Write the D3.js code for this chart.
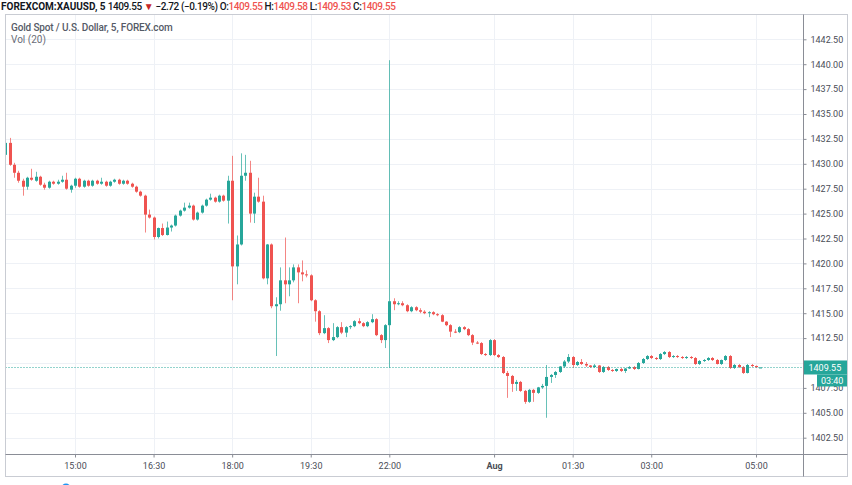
<!DOCTYPE html>
<html><head><meta charset="utf-8">
<script src="https://cdn.jsdelivr.net/npm/d3@7/dist/d3.min.js"></script>
<style>body{margin:0;background:#fff;} svg{display:block;}</style>
</head><body>
<svg id="chart" width="852" height="485"></svg>
<script>
// 5-minute candles, first bar 13:40 (bar index 0), last bar 05:05
const opens = [
1430.9,1432.1,1429.9,1429.1,1428.3,1427.7,1428.6,1428.3,1428.7,1427.9,
1427.6,1428.2,1428.0,1428.2,1428.4,1427.4,1427.8,1428.5,1427.7,1428.3,
1427.8,1428.3,1428.0,1428.2,1427.8,1428.2,1428.4,1428.0,1428.3,1428.0,
1427.7,1427.2,1426.8,1424.9,1424.6,1422.65,1423.55,1422.85,1423.6,1423.8,
1424.8,1425.3,1425.6,1425.8,1424.4,1425.1,1425.8,1426.4,1426.6,1426.2,
1426.8,1426.3,1428.3,1419.7,1421.9,1428.8,1429.1,1425.0,1426.7,1426.2,
1418.5,1421.9,1415.7,1415.9,1418.3,1417.9,1418.3,1419.6,1419.1,1418.9,
1418.8,1416.3,1415.2,1413.0,1413.5,1412.3,1412.6,1413.6,1413.05,1413.6,
1413.7,1414.2,1414.0,1413.7,1414.1,1414.4,1412.8,1412.3,1413.8,1416.2,
1415.9,1416.0,1415.8,1415.2,1415.6,1415.3,1415.15,1415.0,1415.1,1414.9,
1414.8,1414.15,1413.8,1413.15,1413.1,1413.6,1413.4,1412.8,1412.05,1412.0,
1410.9,1410.8,1412.3,1410.8,1410.6,1409.0,1408.7,1407.9,1408.1,1407.2,
1406.1,1407.3,1407.0,1407.55,1407.7,1408.6,1408.8,1409.1,1409.65,1410.15,
1410.6,1409.8,1410.1,1409.9,1409.75,1409.6,1409.75,1409.1,1409.6,1409.3,
1409.2,1409.4,1409.2,1409.45,1409.6,1409.4,1410.0,1410.4,1410.7,1410.5,
1410.4,1410.9,1411.1,1410.6,1410.7,1410.6,1410.5,1410.6,1410.5,1409.9,
1410.2,1410.3,1410.5,1410.3,1409.9,1410.3,1410.7,1409.5,1409.8,1409.6,
1409.0,1409.8,1409.7,1409.55];
const highs = [
1434.6,1432.6,1430.1,1429.3,1428.5,1428.7,1429.5,1429.2,1428.8,1428.1,
1428.3,1428.3,1428.4,1428.8,1429.1,1427.9,1428.6,1428.6,1428.4,1428.4,
1428.4,1428.4,1428.6,1428.3,1428.3,1428.5,1428.5,1428.4,1428.4,1428.1,
1427.8,1427.3,1426.9,1425.4,1424.7,1423.6,1424.0,1424.2,1423.9,1424.9,
1425.4,1426.1,1426.1,1425.9,1425.2,1425.9,1426.5,1427.0,1426.7,1426.9,
1426.9,1428.8,1430.8,1422.8,1431.05,1430.9,1430.3,1427.1,1428.6,1426.8,
1421.95,1422.0,1416.6,1419.6,1422.6,1419.6,1419.9,1419.9,1420.3,1419.3,
1418.9,1416.4,1415.3,1414.8,1413.6,1414.0,1413.7,1414.1,1413.7,1413.8,
1414.3,1414.5,1414.1,1414.2,1414.9,1414.5,1412.9,1413.9,1440.4,1416.5,
1416.2,1416.2,1415.9,1415.7,1415.7,1415.5,1415.3,1415.2,1415.2,1415.0,
1414.9,1414.2,1413.9,1413.4,1413.7,1413.7,1413.5,1412.9,1412.2,1412.1,
1411.0,1412.4,1412.4,1410.9,1410.7,1409.2,1408.8,1408.3,1408.2,1407.3,
1407.4,1407.4,1407.6,1407.9,1409.8,1408.9,1409.2,1409.7,1410.3,1410.9,
1410.7,1410.2,1410.4,1410.1,1409.8,1409.9,1409.8,1409.7,1409.7,1409.4,
1409.45,1409.5,1409.5,1409.7,1409.7,1410.1,1410.5,1410.8,1410.8,1410.6,
1411.0,1411.2,1411.2,1410.8,1410.8,1410.7,1410.7,1410.7,1410.6,1410.3,
1410.4,1410.6,1410.6,1410.4,1410.35,1410.8,1410.8,1409.9,1409.9,1409.7,
1409.9,1409.9,1409.75,1409.58];
const lows = [
1430.7,1429.8,1428.6,1428.1,1426.8,1427.4,1428.3,1428.2,1427.8,1427.4,
1427.5,1427.9,1427.9,1428.1,1427.4,1427.1,1427.6,1427.6,1427.6,1427.7,
1427.7,1427.9,1427.9,1427.7,1427.7,1428.1,1427.9,1427.9,1427.9,1427.6,
1427.1,1426.7,1423.1,1424.5,1422.4,1422.5,1422.75,1422.8,1423.2,1423.7,
1424.7,1425.2,1425.5,1424.3,1424.3,1425.0,1425.7,1426.3,1426.1,1426.1,
1426.2,1424.0,1416.3,1417.9,1421.8,1428.3,1424.1,1424.05,1426.1,1418.4,
1417.9,1415.5,1410.7,1415.25,1416.0,1416.7,1418.1,1416.0,1418.2,1418.6,
1416.2,1414.15,1412.8,1412.9,1412.0,1412.2,1412.5,1412.9,1412.6,1413.4,
1413.6,1413.9,1413.6,1413.6,1414.0,1412.7,1412.0,1411.5,1409.5,1415.3,
1415.8,1415.7,1415.1,1415.1,1415.2,1415.0,1414.9,1414.6,1414.8,1414.7,
1414.1,1413.7,1412.6,1413.0,1413.0,1413.3,1412.7,1411.8,1411.9,1410.8,
1410.7,1410.7,1410.7,1410.5,1408.9,1406.5,1407.1,1407.2,1407.1,1405.9,
1406.0,1406.1,1406.9,1407.4,1404.5,1408.0,1408.5,1409.0,1409.5,1410.0,
1409.5,1409.7,1409.8,1409.6,1409.5,1409.5,1409.0,1409.0,1409.2,1409.1,
1409.1,1409.1,1409.0,1409.4,1409.3,1409.35,1409.9,1410.3,1410.4,1410.3,
1410.3,1410.8,1410.5,1410.5,1410.5,1410.4,1410.4,1410.4,1409.8,1409.8,
1410.1,1410.2,1410.2,1409.85,1409.8,1410.2,1409.4,1409.4,1409.5,1408.9,
1408.95,1409.6,1409.5,1409.53];
const closes = [
1432.1,1429.9,1429.1,1428.3,1427.7,1428.6,1428.4,1428.7,1427.9,1427.6,
1428.2,1428.0,1428.2,1428.4,1427.5,1427.8,1428.5,1427.7,1428.3,1427.8,
1428.3,1428.0,1428.2,1427.8,1428.2,1428.4,1428.0,1428.3,1428.0,1427.7,
1427.2,1426.8,1424.9,1424.6,1422.65,1423.55,1422.85,1423.6,1423.8,1424.8,
1425.3,1425.6,1425.8,1424.4,1425.1,1425.8,1426.4,1426.6,1426.2,1426.8,
1426.3,1428.3,1419.7,1421.9,1428.8,1429.1,1425.0,1426.7,1426.2,1418.5,
1421.9,1415.7,1415.9,1418.3,1417.9,1418.3,1419.6,1419.1,1418.9,1418.8,
1416.3,1415.2,1413.0,1413.5,1412.3,1412.6,1413.6,1413.05,1413.6,1413.7,
1414.2,1414.0,1413.7,1414.1,1414.4,1412.8,1412.3,1413.8,1416.2,1415.9,
1416.0,1415.8,1415.2,1415.6,1415.3,1415.15,1415.0,1415.1,1414.9,1414.8,
1414.15,1413.8,1413.15,1413.1,1413.6,1413.4,1412.8,1412.05,1412.0,1410.9,
1410.8,1412.3,1410.8,1410.6,1409.0,1408.7,1407.9,1408.1,1407.2,1406.1,
1407.3,1407.0,1407.55,1407.7,1408.6,1408.8,1409.1,1409.65,1410.15,1410.6,
1409.8,1410.1,1409.9,1409.75,1409.6,1409.75,1409.1,1409.6,1409.3,1409.2,
1409.4,1409.2,1409.45,1409.6,1409.4,1410.0,1410.4,1410.7,1410.5,1410.4,
1410.9,1411.1,1410.6,1410.7,1410.6,1410.5,1410.6,1410.5,1409.9,1410.2,
1410.3,1410.5,1410.3,1409.9,1410.3,1410.7,1409.5,1409.8,1409.6,1409.0,
1409.8,1409.7,1409.58,1409.55];

const priceTicks = [1402.5,1405,1407.5,1410,1412.5,1415,1417.5,1420,1422.5,1425,1427.5,1430,1432.5,1435,1437.5,1440,1442.5];
const hiddenPriceTicks = [1410];           // covered by the last-price label
const timeTickLabels = ["15:00","16:30","18:00","19:30","22:00","Aug","01:30","03:00","05:00"];
const timeTickBars = [16,34,52,70,88,112,130,148,172];
const lastPrice = 1409.55;

const UP = "#26a69a", DOWN = "#ef5350";
const svg = d3.select("#chart");
const L = 5.5, T = 14.5, R = 803.5, B = 454.5, RR = 847.5, BB = 476.5;

const x = d3.scaleLinear().domain([16,172]).range([75,756]);
const y = d3.scaleLinear().domain([1402.5,1442.5]).range([437.7,39.3]);

const data = opens.map((o,i)=>({i, o, h:highs[i], l:lows[i], c:closes[i]}));

svg.append("rect").attr("width",852).attr("height",485).attr("fill","#fff");

const defs = svg.append("defs");
defs.append("clipPath").attr("id","plot")
  .append("rect").attr("x",L).attr("y",T).attr("width",R-L).attr("height",B-T);
const yl = y(lastPrice);

// grid
const grid = svg.append("g");
grid.selectAll("line.h").data(priceTicks).join("line")
  .attr("x1",L).attr("x2",R).attr("y1",d=>Math.round(y(d))+0.5).attr("y2",d=>Math.round(y(d))+0.5)
  .attr("stroke","#eef1f6");
grid.selectAll("line.v").data(timeTickBars).join("line")
  .attr("y1",T).attr("y2",B).attr("x1",d=>Math.round(x(d))+0.5).attr("x2",d=>Math.round(x(d))+0.5)
  .attr("stroke","#eef1f6");

// candles
const cg = svg.append("g").attr("clip-path","url(#plot)");
const col = d => d.c >= d.o ? UP : DOWN;
cg.selectAll("line.wick").data(data).join("line")
  .attr("x1",d=>Math.round(x(d.i))+0.5).attr("x2",d=>Math.round(x(d.i))+0.5)
  .attr("y1",d=>y(d.h)).attr("y2",d=>y(d.l))
  .attr("stroke",col).attr("stroke-width",1).attr("stroke-opacity",0.7);
cg.selectAll("rect.body").data(data).join("rect")
  .attr("x",d=>Math.round(x(d.i))-1).attr("width",3)
  .attr("y",d=>y(Math.max(d.o,d.c)))
  .attr("height",d=>Math.max(1,Math.abs(y(d.o)-y(d.c))))
  .attr("fill",col);

// last price dotted line
svg.append("line").attr("x1",L).attr("x2",R)
  .attr("y1",Math.round(yl)+0.5).attr("y2",Math.round(yl)+0.5)
  .attr("stroke",UP).attr("stroke-dasharray","1,2").attr("stroke-width",1);

// axes
const font = "Roboto, 'Noto Sans', sans-serif";
const ya = svg.append("g").attr("transform",`translate(${R},0)`)
  .call(d3.axisRight(y).tickValues(priceTicks).tickFormat(d3.format(".2f")).tickSize(3).tickPadding(4));
ya.select(".domain").remove();
ya.selectAll("line").attr("stroke","#8a8d96");
ya.selectAll("text").attr("fill","#4a4d57").style("font-family",font).style("font-size","9px");
ya.selectAll(".tick").filter(d=>hiddenPriceTicks.includes(d)).select("text").remove();

const xa = svg.append("g").attr("transform",`translate(0,${B})`)
  .call(d3.axisBottom(x).tickValues(timeTickBars).tickFormat((d,i)=>timeTickLabels[i]).tickSize(3).tickPadding(5));
xa.select(".domain").remove();
xa.selectAll("line").attr("stroke","#8a8d96");
xa.selectAll("text").attr("fill","#4a4d57").style("font-family",font).style("font-size","9px")
  .style("font-weight",(d,i)=>timeTickLabels[i]==="Aug"?"700":"400");

// frame
const fr = svg.append("g").attr("fill","none");
fr.append("rect").attr("x",L).attr("y",T).attr("width",RR-L).attr("height",BB-T).attr("stroke","#c9ccd3");
fr.append("line").attr("x1",R).attr("x2",R).attr("y1",T).attr("y2",BB).attr("stroke","#8a8d96");
fr.append("line").attr("x1",L).attr("x2",RR).attr("y1",B).attr("y2",B).attr("stroke","#8a8d96");

// price / countdown labels (the countdown box partly covers the 1407.50 label, as in the source)
svg.append("rect").attr("x",R+0.5).attr("y",yl-7).attr("width",RR-R-1).attr("height",14).attr("fill",UP);
svg.append("text").attr("x",R+5).attr("y",yl+3.3).attr("fill","#fff")
  .style("font-family",font).style("font-size","9px").text("1409.55");
svg.append("rect").attr("x",817).attr("y",yl+7).attr("width",RR-817-0.5).attr("height",12).attr("fill",UP);
svg.append("text").attr("x",821).attr("y",yl+16.3).attr("fill","#fff")
  .style("font-family",font).style("font-size","9px").text("03:40");

// header
const hd = svg.append("text").attr("x",1).attr("y",9.5)
  .style("font-family",font).style("font-size","10px").style("font-weight","500").attr("fill","#131722");
hd.append("tspan").style("font-weight","700").text("FOREXCOM:XAUUSD, 5");
const rest = hd.append("tspan").style("letter-spacing","-0.4px");
rest.append("tspan").text(" 1409.55 ");
rest.append("tspan").attr("fill","#c62828").text("▼");
rest.append("tspan").text(" −2.72 (−0.19%) ");
const vals = [["O:","1409.55"],["H:","1409.58"],["L:","1409.53"],["C:","1409.55"]];
vals.forEach(([k,v],j)=>{
  rest.append("tspan").text((j?" ":"")+k);
  rest.append("tspan").attr("fill",DOWN).text(v);
});

svg.append("text").attr("x",11).attr("y",30.5).attr("fill","#555a66")
  .style("font-family",font).style("font-size","10px").style("font-weight","500").style("letter-spacing","-0.15px")
  .text("Gold Spot / U.S. Dollar, 5, FOREX.com");
svg.append("text").attr("x",11).attr("y",43).attr("fill","#6a6d78")
  .style("font-family",font).style("font-size","10px")
  .text("Vol (20)");

// partially visible icon below chart
svg.append("circle").attr("cx",66).attr("cy",488).attr("r",4.5).attr("fill","#2196f3");
</script>
</body></html>
